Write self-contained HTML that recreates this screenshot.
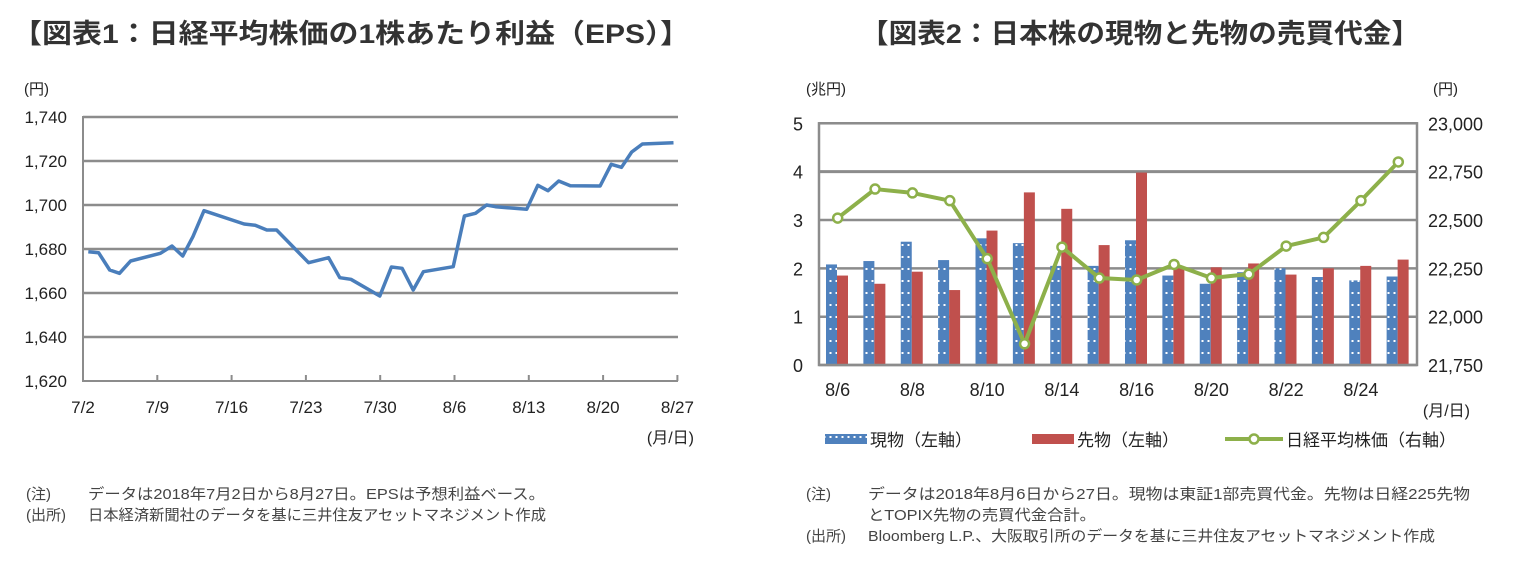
<!DOCTYPE html>
<html><head><meta charset="utf-8"><style>
html,body{margin:0;padding:0;background:#fff;}
body{width:1528px;height:557px;overflow:hidden;font-family:"Liberation Sans","Noto Sans CJK JP",sans-serif;}
svg text{font-family:"Liberation Sans","Noto Sans CJK JP",sans-serif;fill:#222;}
</style></head><body>
<svg id="s" width="1528" height="557" xmlns="http://www.w3.org/2000/svg">
<defs>
<pattern id="dots" width="6" height="12" patternUnits="userSpaceOnUse">
<rect width="6" height="12" fill="#4f81bd"/><rect x="1.5" y="4" width="2" height="2" fill="#fff"/>
</pattern>
</defs>
<text x="12" y="43" font-size="27" font-weight="bold" style="fill:#333" textLength="678" lengthAdjust="spacingAndGlyphs">【図表1：日経平均株価の1株あたり利益（EPS）】</text>
<text x="860" y="43" font-size="27" font-weight="bold" style="fill:#333" textLength="560" lengthAdjust="spacingAndGlyphs">【図表2：日本株の現物と先物の売買代金】</text>
<g id="c1"></g>
<g id="c2"></g>
<text x="26" y="499" font-size="15" style="fill:#444">(注)</text>
<text x="88" y="499" font-size="15" style="fill:#444" textLength="457" lengthAdjust="spacingAndGlyphs">データは2018年7月2日から8月27日。EPSは予想利益ベース。</text>
<text x="26" y="520" font-size="15" style="fill:#444">(出所)</text>
<text x="88" y="520" font-size="15" style="fill:#444" textLength="458" lengthAdjust="spacingAndGlyphs">日本経済新聞社のデータを基に三井住友アセットマネジメント作成</text>
<text x="806" y="499" font-size="15" style="fill:#444">(注)</text>
<text x="868" y="499" font-size="15" style="fill:#444" textLength="602" lengthAdjust="spacingAndGlyphs">データは2018年8月6日から27日。現物は東証1部売買代金。先物は日経225先物</text>
<text x="868" y="520" font-size="15" style="fill:#444" textLength="228" lengthAdjust="spacingAndGlyphs">とTOPIX先物の売買代金合計。</text>
<text x="806" y="541" font-size="15" style="fill:#444">(出所)</text>
<text x="868" y="541" font-size="15" style="fill:#444" textLength="567" lengthAdjust="spacingAndGlyphs">Bloomberg L.P.、大阪取引所のデータを基に三井住友アセットマネジメント作成</text>
</svg>
<script>
var NS="http://www.w3.org/2000/svg";
function el(p,t,a,txt){var e=document.createElementNS(NS,t);for(var k in a)e.setAttribute(k,a[k]);if(txt!==undefined)e.textContent=txt;p.appendChild(e);return e;}
// Chart 1
var c1=document.getElementById('c1');
el(c1,'text',{x:24,y:94,'font-size':15},'(円)');
var labs=['1,740','1,720','1,700','1,680','1,660','1,640','1,620'];
for(var i=0;i<7;i++){var y=117+i*44;
 if(i<6)el(c1,'line',{x1:83,x2:678,y1:y,y2:y,stroke:'#8c8c8c','stroke-width':2.5});
 el(c1,'text',{x:67,y:y+6,'font-size':17,'text-anchor':'end'},labs[i]);}
el(c1,'line',{x1:83,x2:678,y1:381,y2:381,stroke:'#8c8c8c','stroke-width':2});
el(c1,'line',{x1:83,x2:83,y1:116,y2:382,stroke:'#8c8c8c','stroke-width':2});
var xl=['7/2','7/9','7/16','7/23','7/30','8/6','8/13','8/20','8/27'];
for(var i=0;i<9;i++){var x=83+i*74.3;
 el(c1,'line',{x1:x,x2:x,y1:375,y2:381,stroke:'#8c8c8c','stroke-width':2});
 el(c1,'text',{x:x,y:413,'font-size':17,'text-anchor':'middle'},xl[i]);}
el(c1,'text',{x:694,y:443,'font-size':16,'text-anchor':'end'},'(月/日)');
var z=[[195,515],[218,518],[243,570],[265,580],[290,543],[357,520],[383,498],[407,528],[430,470],[455,392],[545,432],[570,436],[596,450],[618,450],[690,548],[735,533],[760,593],[785,598],[850,648],[876,561],[900,565],[925,630],[948,575],[1015,560],[1040,408],[1065,400],[1090,375],[1110,380],[1180,388],[1205,316],[1228,332],[1252,303],[1278,317],[1345,318],[1370,253],[1393,262],[1416,216],[1440,192],[1510,188]];
var pts=z.map(function(p){return (83+(p[0]-183)*0.445).toFixed(1)+','+(80+p[1]/3).toFixed(1);}).join(' ');
el(c1,'polyline',{points:pts,fill:'none',stroke:'#4a7ebb','stroke-width':3.5,'stroke-linejoin':'round'});
// Chart 2
var c2=document.getElementById('c2');
var L=819,R=1417,T=123.3,B=365,h=48.35;
el(c2,'text',{x:806,y:94,'font-size':15},'(兆円)');
el(c2,'text',{x:1433,y:94,'font-size':15},'(円)');
var rl=['23,000','22,750','22,500','22,250','22,000','21,750'];
for(var i=0;i<6;i++){var y=T+i*h;
 el(c2,'line',{x1:L,x2:R,y1:y,y2:y,stroke:'#8c8c8c','stroke-width':i==1?3:2.5});
 el(c2,'text',{x:798,y:y+7,'font-size':18,'text-anchor':'middle'},String(5-i));
 el(c2,'text',{x:1428,y:y+7,'font-size':18},rl[i]);}
var bl=[2.08,2.15,2.55,2.17,2.62,2.52,2.05,2.05,2.58,1.85,1.68,1.92,2.0,1.82,1.75,1.83];
var rd=[1.85,1.68,1.93,1.55,2.78,3.57,3.23,2.48,3.98,2.0,2.02,2.1,1.87,2.0,2.05,2.18];
var ln=[22510,22660,22640,22600,22300,21860,22360,22200,22190,22270,22200,22220,22365,22410,22600,22800];
var cw=(R-L)/16,lp=[];
for(var i=0;i<16;i++){var x0=L+i*cw;
 el(c2,'rect',{x:x0+7,y:B-bl[i]*h,width:11,height:bl[i]*h,fill:'url(#dots)'});
 el(c2,'rect',{x:x0+18,y:B-rd[i]*h,width:11,height:rd[i]*h,fill:'#c0504d'});
 lp.push([x0+cw/2,T+(23000-ln[i])/250*h]);}
el(c2,'rect',{x:L,y:T,width:R-L,height:B-T,fill:'none',stroke:'#8c8c8c','stroke-width':2.5});
el(c2,'polyline',{points:lp.map(function(p){return p.join(',')}).join(' '),fill:'none',stroke:'#8db04a','stroke-width':4,'stroke-linejoin':'round'});
lp.forEach(function(p){el(c2,'circle',{cx:p[0],cy:p[1],r:4.5,fill:'#fff',stroke:'#8db04a','stroke-width':2.5});});
var xl2=['8/6','8/8','8/10','8/14','8/16','8/20','8/22','8/24'];
for(var i=0;i<8;i++)el(c2,'text',{x:L+(2*i+0.5)*cw,y:396,'font-size':18,'text-anchor':'middle'},xl2[i]);
el(c2,'text',{x:1470,y:416,'font-size':16,'text-anchor':'end'},'(月/日)');
el(c2,'rect',{x:825,y:434,width:42,height:10,fill:'url(#dots)'});
el(c2,'text',{x:870,y:446,'font-size':17},'現物（左軸）');
el(c2,'rect',{x:1032,y:434,width:42,height:10,fill:'#c0504d'});
el(c2,'text',{x:1077,y:446,'font-size':17},'先物（左軸）');
el(c2,'line',{x1:1225,x2:1283,y1:439,y2:439,stroke:'#8db04a','stroke-width':4});
el(c2,'circle',{cx:1254,cy:439,r:4.5,fill:'#fff',stroke:'#8db04a','stroke-width':2.5});
el(c2,'text',{x:1286,y:446,'font-size':17},'日経平均株価（右軸）');
</script>
</body></html>
